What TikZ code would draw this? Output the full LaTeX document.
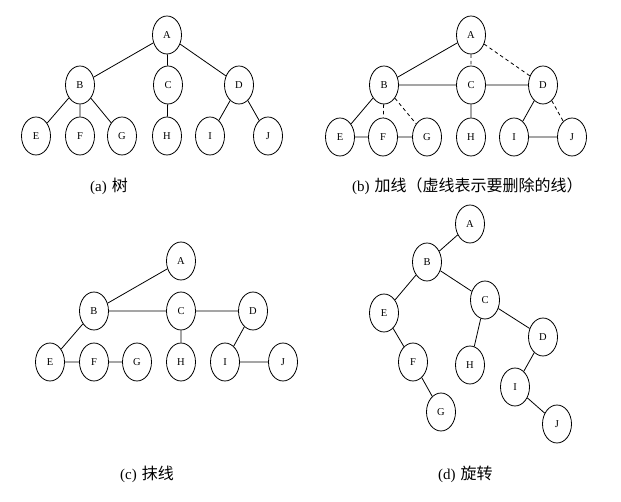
\documentclass[tikz,border=0pt]{standalone}
\usepackage{fontspec}
\setmainfont{Liberation Serif}
\newfontfamily\cjk{Noto Sans CJK SC}
\usetikzlibrary{shapes.geometric}
\newcommand{\zh}[1]{\hspace{5pt}{\cjk\fontsize{16}{18}\selectfont #1}}
\tikzset{
  tn/.style={ellipse,draw,line width=0.8pt,minimum width=29pt,minimum height=38pt,inner sep=0pt,font=\fontsize{10.5}{12}\selectfont},
  ed/.style={line width=0.8pt},
  del/.style={line width=0.8pt,dash pattern=on 3.5pt off 3pt},
  captxt/.style={font=\fontsize{15}{17}\selectfont,inner sep=0pt,anchor=west}
}
\begin{document}
\begin{tikzpicture}[x=1pt,y=-1pt]
\useasboundingbox (0,0) rectangle (621,502);
% ---------- (a)
\node[tn] (aA) at (167,35) {A};
\node[tn] (aB) at (80,85) {B};
\node[tn] (aC) at (168,85) {C};
\node[tn] (aD) at (239,85) {D};
\node[tn] (aE) at (36,136) {E};
\node[tn] (aF) at (80,136) {F};
\node[tn] (aG) at (122,136) {G};
\node[tn] (aH) at (167,136) {H};
\node[tn] (aI) at (210,136) {I};
\node[tn] (aJ) at (268,136) {J};
\draw[ed] (aA)--(aB) (aA)--(aC) (aA)--(aD) (aB)--(aE) (aB)--(aF) (aB)--(aG) (aC)--(aH) (aD)--(aI) (aD)--(aJ);
\node[captxt] (capa) at (90,186) {(a)\zh{树}};
% ---------- (b)
\node[tn] (bA) at (471,35) {A};
\node[tn] (bB) at (384,85) {B};
\node[tn] (bC) at (471,85) {C};
\node[tn] (bD) at (543,85) {D};
\node[tn] (bE) at (340,137) {E};
\node[tn] (bF) at (383,137) {F};
\node[tn] (bG) at (427,137) {G};
\node[tn] (bH) at (471,137) {H};
\node[tn] (bI) at (514,137) {I};
\node[tn] (bJ) at (572,137) {J};
\draw[ed] (bA)--(bB) (bB)--(bC) (bC)--(bD) (bB)--(bE) (bC)--(bH) (bD)--(bI) (bE)--(bF) (bF)--(bG) (bI)--(bJ);
\draw[del] (bA)--(bC) (bA)--(bD) (bB)--(bF) (bB)--(bG) (bD)--(bJ);
\node[captxt] (capb) at (352,186) {(b)\zh{加线（虚线表示要删除的线）}};
% ---------- (c)
\node[tn] (cA) at (181,261) {A};
\node[tn] (cB) at (94,311) {B};
\node[tn] (cC) at (181,311) {C};
\node[tn] (cD) at (253,311) {D};
\node[tn] (cE) at (50,362) {E};
\node[tn] (cF) at (94,362) {F};
\node[tn] (cG) at (137,362) {G};
\node[tn] (cH) at (181,362) {H};
\node[tn] (cI) at (225,362) {I};
\node[tn] (cJ) at (283,362) {J};
\draw[ed] (cA)--(cB) (cB)--(cC) (cC)--(cD) (cB)--(cE) (cC)--(cH) (cD)--(cI) (cE)--(cF) (cF)--(cG) (cI)--(cJ);
\node[captxt] (capc) at (120,474) {(c)\zh{抹线}};
% ---------- (d)
\node[tn] (dA) at (470,224) {A};
\node[tn] (dB) at (427,262) {B};
\node[tn] (dC) at (485,300) {C};
\node[tn] (dE) at (384,313) {E};
\node[tn] (dD) at (543,337) {D};
\node[tn] (dF) at (413,362) {F};
\node[tn] (dH) at (470,365) {H};
\node[tn] (dI) at (515,387) {I};
\node[tn] (dG) at (441,412) {G};
\node[tn] (dJ) at (557,424) {J};
\draw[ed] (dA)--(dB) (dB)--(dE) (dB)--(dC) (dE)--(dF) (dF)--(dG) (dC)--(dH) (dC)--(dD) (dD)--(dI) (dI)--(dJ);
\node[captxt] (capd) at (438,474) {(d)\zh{旋转}};
\end{tikzpicture}
\end{document}
